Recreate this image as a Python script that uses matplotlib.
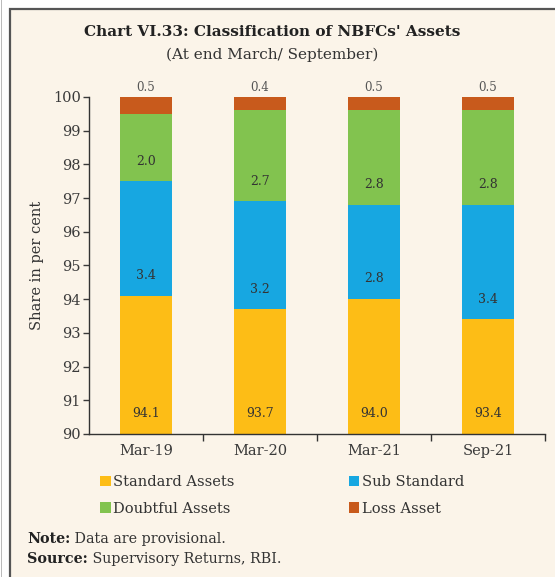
import matplotlib.pyplot as plt
from matplotlib.patches import Rectangle
import numpy as np

# chart data
periods    = ['Mar-19', 'Mar-20', 'Mar-21', 'Sep-21']
standard   = [94.1, 93.7, 94.0, 93.4]
substd     = [3.4, 3.2, 2.8, 3.4]
doubtful   = [2.0, 2.7, 2.8, 2.8]
loss       = [0.5, 0.4, 0.5, 0.5]
series_names = ['Standard Assets', 'Sub Standard', 'Doubtful Assets', 'Loss Asset']
colors = ['#FDBD16', '#17A7E1', '#82C34F', '#C85A1C']

bg = '#FBF4E9'
W, H = 555, 577

plt.rcParams['font.family'] = ['DejaVu Serif']

fig = plt.figure(figsize=(W / 100, H / 100), dpi=100)
fig.patch.set_facecolor('white')

# framed panel
fig.patches.append(Rectangle((10 / W, -0.01), 1, 1.01 - 9 / H, transform=fig.transFigure,
                             facecolor=bg, edgecolor='#555555', linewidth=1.6, zorder=-2))
fig.patches.append(Rectangle((1 / W, 0), 0.002, 1, transform=fig.transFigure,
                             facecolor='#bbbbbb', edgecolor='none', zorder=-2))

ax = fig.add_axes([89 / W, 1 - 434 / H, (545 - 89) / W, (434 - 97) / H])
ax.set_facecolor('none')

x = np.arange(len(periods))
width = 0.46
bottom = np.zeros(len(periods))
for vals, col, name in zip([standard, substd, doubtful, loss], colors, series_names):
    vals = np.array(vals)
    ax.bar(x, vals, width, bottom=bottom, color=col, label=name, zorder=2)
    if name != 'Loss Asset':
        for xi, b, v in zip(x, bottom, vals):
            ax.text(xi, max(b, 90) + 0.6, f'{v:.1f}', ha='center', va='center',
                    fontsize=9, color='#333333', zorder=3)
    else:
        for xi, v in zip(x, vals):
            ax.text(xi, 100.27, f'{v:.1f}', ha='center', va='center',
                    fontsize=8.5, color='#555555', clip_on=False)
    bottom = bottom + vals

ax.set_ylim(90, 100)
ax.set_xlim(-0.5, len(periods) - 0.5)
ax.set_yticks(np.arange(90, 101, 1))
ax.set_xticks(x)
ax.set_xticklabels(periods)
ax.set_xticks(np.arange(0.5, len(periods), 1), minor=True)
ax.tick_params(axis='x', which='major', length=0, labelsize=10.5, pad=7, colors='#3a3a3a')
ax.tick_params(axis='x', which='minor', length=5, width=1, color='#333333')
ax.tick_params(axis='y', length=4, width=1, labelsize=10.5, colors='#3a3a3a', pad=2)
for s in ['top', 'right']:
    ax.spines[s].set_visible(False)
for s in ['left', 'bottom']:
    ax.spines[s].set_color('#333333')
    ax.spines[s].set_linewidth(1)
ax.set_ylabel('Share in per cent', fontsize=10.5, color='#333333', labelpad=6)

# titles
fig.text(272 / W, 1 - 32 / H, "Chart VI.33: Classification of NBFCs' Assets",
         ha='center', va='center', fontsize=11, fontweight='bold', color='#222222')
fig.text(272 / W, 1 - 55 / H, '(At end March/ September)', ha='center', va='center',
         fontsize=11, color='#333333')

# legend
handles, labels = ax.get_legend_handles_labels()
order = [0, 2, 1, 3]
fig.legend([handles[i] for i in order], [labels[i] for i in order],
           loc='upper left', bbox_to_anchor=(93 / W, 1 - 468 / H), ncol=2,
           frameon=False, fontsize=10.5, handlelength=0.7, handleheight=0.7,
           handletextpad=0.2, columnspacing=7.8, labelspacing=0.85,
           labelcolor='#333333', borderpad=0)

# notes
for y, head, body in [(539, 'Note:', ' Data are provisional.'),
                      (559, 'Source:', ' Supervisory Returns, RBI.')]:
    t = fig.text(27 / W, 1 - y / H, head, fontsize=10.3, fontweight='bold',
                 va='center', color='#222222')
    fig.canvas.draw()
    bb = t.get_window_extent()
    fig.text(bb.x1 / W, 1 - y / H, body, fontsize=10.3, va='center', color='#333333')

fig.savefig('out.png', dpi=100, facecolor=fig.get_facecolor())
